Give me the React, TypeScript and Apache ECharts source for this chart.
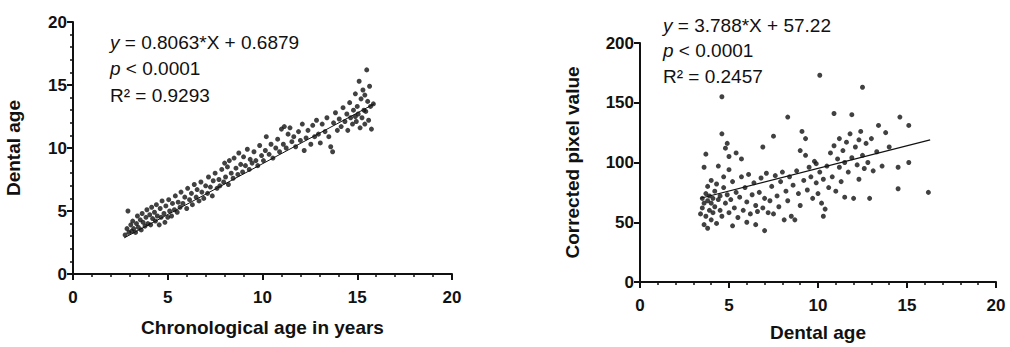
import React, { useEffect, useRef } from "react";
import * as echarts from "echarts";

// Left panel: chronological age (x) vs dental age (y)
const leftPoints: [number, number][] = [
  [2.75, 3.1], [2.85, 3.6], [2.9, 5.0], [2.95, 3.3], [3.05, 3.9], [3.1, 3.4], [3.15, 4.2], [3.2, 3.6],
  [3.3, 3.3], [3.35, 4.0], [3.4, 4.6], [3.45, 3.7], [3.55, 4.3], [3.6, 3.5], [3.65, 4.8], [3.7, 4.1],
  [3.8, 3.8], [3.85, 4.5], [3.9, 5.1], [3.95, 4.0], [4.05, 4.7], [4.1, 3.9], [4.15, 5.3], [4.2, 4.4],
  [4.3, 4.9], [4.35, 4.2], [4.4, 5.5], [4.45, 4.6], [4.55, 3.9], [4.6, 5.2], [4.65, 4.5], [4.7, 5.8],
  [4.8, 4.8], [4.85, 4.1], [4.9, 5.4], [5.0, 4.5], [5.05, 5.9], [5.1, 5.0], [5.2, 4.6], [5.25, 5.6],
  [5.35, 5.1], [5.4, 6.2], [5.5, 4.9], [5.55, 5.7], [5.65, 5.3], [5.7, 6.5], [5.8, 5.6], [5.9, 6.1],
  [6.0, 5.2], [6.05, 6.8], [6.15, 5.9], [6.25, 6.4], [6.3, 5.5], [6.4, 7.1], [6.5, 6.1], [6.55, 6.7],
  [6.65, 5.8], [6.75, 7.3], [6.8, 6.5], [6.9, 6.0], [7.0, 7.0], [7.1, 6.4], [7.15, 7.7], [7.25, 6.9],
  [7.35, 6.2], [7.4, 7.4], [7.5, 8.0], [7.6, 6.8], [7.7, 7.5], [7.75, 7.0], [7.85, 8.3], [7.95, 7.3],
  [8.0, 8.8], [8.05, 7.7], [8.15, 8.5], [8.2, 7.1], [8.25, 9.0], [8.35, 8.0], [8.45, 7.6], [8.5, 9.2],
  [8.6, 8.4], [8.7, 7.9], [8.75, 9.6], [8.85, 8.7], [8.95, 8.1], [9.0, 9.3], [9.1, 8.6], [9.2, 9.9],
  [9.3, 8.3], [9.35, 9.1], [9.45, 8.8], [9.55, 9.7], [9.65, 9.0], [9.75, 8.6], [9.85, 10.2], [9.95, 9.4],
  [10.05, 9.0], [10.15, 9.8], [10.2, 10.9], [10.35, 9.5], [10.45, 10.3], [10.55, 9.2], [10.7, 10.0], [10.8, 10.7],
  [10.9, 9.7], [11.0, 11.5], [11.1, 10.3], [11.15, 11.7], [11.25, 10.0], [11.35, 11.1], [11.45, 11.6], [11.55, 10.5],
  [11.65, 10.9], [11.75, 10.1], [11.9, 11.3], [12.0, 10.6], [12.1, 11.9], [12.2, 9.8], [12.3, 10.8], [12.4, 11.4],
  [12.55, 10.3], [12.65, 11.8], [12.75, 10.9], [12.85, 12.2], [12.95, 11.1], [13.05, 10.4], [13.15, 11.9], [13.3, 11.3],
  [13.4, 12.4], [13.5, 10.9], [13.6, 10.1], [13.7, 9.7], [13.75, 12.0], [13.85, 12.8], [13.95, 11.4], [14.05, 12.3],
  [14.15, 11.7], [14.25, 13.2], [14.35, 12.1], [14.45, 12.7], [14.5, 11.4], [14.6, 13.6], [14.65, 12.4], [14.75, 11.9],
  [14.8, 13.0], [14.9, 14.3], [14.95, 12.1], [15.0, 13.3], [15.05, 12.7], [15.1, 15.3], [15.15, 11.6], [15.2, 13.9],
  [15.25, 12.4], [15.3, 14.6], [15.35, 13.0], [15.4, 11.9], [15.45, 12.9], [15.5, 16.2], [15.55, 13.7], [15.6, 12.2],
  [15.65, 14.9], [15.7, 13.3], [15.75, 11.5], [15.85, 13.5], [15.4, 14.2], [14.9, 12.5],
];

// Right panel: dental age (x) vs corrected pixel value (y)
const rightPoints: [number, number][] = [
  [3.4, 57], [3.5, 62], [3.5, 70], [3.6, 48], [3.6, 66], [3.6, 96], [3.7, 74], [3.7, 55],
  [3.7, 107], [3.8, 68], [3.8, 45], [3.8, 80], [3.9, 60], [3.9, 72], [4.0, 52], [4.0, 66],
  [4.0, 85], [4.1, 70], [4.1, 58], [4.2, 76], [4.2, 63], [4.3, 49], [4.3, 82], [4.4, 69],
  [4.4, 97], [4.5, 60], [4.5, 72], [4.6, 155], [4.6, 124], [4.6, 55], [4.7, 79], [4.7, 88],
  [4.8, 66], [4.8, 112], [4.9, 116], [4.9, 73], [5.0, 58], [5.0, 94], [5.0, 105], [5.1, 69],
  [5.2, 47], [5.2, 84], [5.3, 62], [5.4, 75], [5.4, 108], [5.5, 54], [5.6, 71], [5.7, 103],
  [5.7, 88], [5.8, 60], [5.9, 79], [6.0, 50], [6.0, 67], [6.1, 90], [6.2, 57], [6.3, 73],
  [6.4, 83], [6.5, 48], [6.5, 64], [6.6, 59], [6.7, 75], [6.8, 87], [6.9, 113], [6.9, 62],
  [7.0, 43], [7.0, 70], [7.1, 91], [7.2, 58], [7.3, 68], [7.4, 80], [7.5, 122], [7.5, 57],
  [7.6, 89], [7.7, 72], [7.8, 63], [7.9, 84], [8.0, 92], [8.1, 52], [8.2, 76], [8.3, 138],
  [8.3, 68], [8.4, 88], [8.5, 55], [8.6, 81], [8.7, 52], [8.8, 93], [8.9, 74], [9.0, 64],
  [9.0, 110], [9.1, 126], [9.2, 85], [9.3, 106], [9.3, 120], [9.4, 77], [9.5, 96], [9.6, 88],
  [9.7, 70], [9.8, 101], [9.9, 99], [9.9, 83], [10.0, 74], [10.1, 173], [10.1, 92], [10.2, 66],
  [10.3, 55], [10.3, 86], [10.4, 61], [10.5, 97], [10.6, 79], [10.7, 108], [10.8, 88], [10.9, 141],
  [10.9, 114], [11.0, 76], [11.1, 103], [11.2, 96], [11.2, 120], [11.3, 84], [11.4, 110], [11.5, 71],
  [11.5, 100], [11.6, 117], [11.7, 92], [11.8, 124], [11.9, 140], [11.9, 104], [12.0, 70], [12.1, 113],
  [12.2, 98], [12.3, 119], [12.3, 86], [12.4, 126], [12.5, 163], [12.5, 106], [12.6, 95], [12.7, 116],
  [12.8, 100], [12.9, 70], [13.0, 120], [13.1, 93], [13.3, 109], [13.4, 131], [13.6, 97], [13.8, 125],
  [14.0, 113], [14.5, 96], [14.5, 78], [14.6, 138], [15.1, 131], [15.1, 100], [16.2, 75],
];

const leftFit = { slope: 0.8063, intercept: 0.6879, xRange: [2.7, 15.9] };
const rightFit = { slope: 3.788, intercept: 57.22, xRange: [3.4, 16.3] };

const leftNotes = ["{i|y} = 0.8063*X + 0.6879", "{i|p} < 0.0001", "R² = 0.9293"];
const rightNotes = ["{i|y} = 3.788*X + 57.22", "{i|p} < 0.0001", "R² = 0.2457"];

const FONT = "'Liberation Sans', Arial, sans-serif";

function axisCommon(min: number, max: number, interval: number, minor: boolean) {
  return {
    type: "value" as const,
    min,
    max,
    interval,
    splitLine: { show: false },
    axisLine: { show: true, onZero: false, lineStyle: { color: "#111", width: 2 } },
    axisTick: { show: true, inside: false, length: 6, lineStyle: { color: "#111", width: 2 } },
    minorTick: { show: minor, splitNumber: 5, length: 3, lineStyle: { color: "#111", width: 1.5 } },
    axisLabel: { color: "#111", fontSize: 17, fontWeight: "bold" as const, fontFamily: FONT },
    nameTextStyle: { color: "#111", fontSize: 19, fontWeight: "bold" as const, fontFamily: FONT },
    nameLocation: "middle" as const,
  };
}

function fitLine(f: { slope: number; intercept: number; xRange: number[] }) {
  return f.xRange.map((x) => [x, f.slope * x + f.intercept]);
}

function notes(lines: string[], x: number, ys: number[]) {
  return lines.map((t, i) => ({
    type: "text" as const,
    x,
    y: ys[i],
    style: {
      text: t,
      fill: "#111",
      fontSize: 19,
      fontFamily: FONT,
      verticalAlign: "middle" as const,
      rich: { i: { fontStyle: "italic" as const, fontSize: 19, fontFamily: FONT, fill: "#111" } },
    },
  }));
}

export default function App() {
  const ref = useRef<HTMLDivElement>(null);
  useEffect(() => {
    document.body.style.margin = "0";
    if (!ref.current) return;
    const chart = echarts.init(ref.current, undefined, { renderer: "svg" });
    chart.setOption({
      animation: false,
      backgroundColor: "#fff",
      grid: [
        { left: 73, top: 22, width: 379, height: 252 },
        { left: 640, top: 43, width: 356, height: 239 },
      ],
      xAxis: [
        {
          ...axisCommon(0, 20, 5, true),
          gridIndex: 0,
          name: "Chronological age in years",
          nameGap: 44,
          axisLabel: { ...axisCommon(0, 20, 5, true).axisLabel, margin: 15 },
        },
        {
          ...axisCommon(0, 20, 5, true),
          gridIndex: 1,
          name: "Dental age",
          nameGap: 41,
          axisLabel: { ...axisCommon(0, 20, 5, true).axisLabel, margin: 15 },
        },
      ],
      yAxis: [
        {
          ...axisCommon(0, 20, 5, true),
          gridIndex: 0,
          name: "Dental age",
          nameGap: 50,
          axisLabel: { ...axisCommon(0, 20, 5, true).axisLabel, margin: 6 },
        },
        {
          ...axisCommon(0, 200, 50, false),
          gridIndex: 1,
          name: "Corrected pixel value",
          nameGap: 58,
          axisLabel: { ...axisCommon(0, 200, 50, false).axisLabel, margin: 6 },
        },
      ],
      series: [
        {
          type: "scatter",
          xAxisIndex: 0,
          yAxisIndex: 0,
          data: leftPoints,
          symbol: "circle",
          symbolSize: 5,
          itemStyle: { color: "#111" },
        },
        {
          type: "line",
          xAxisIndex: 0,
          yAxisIndex: 0,
          data: fitLine(leftFit),
          symbol: "none",
          lineStyle: { color: "#111", width: 1 },
        },
        {
          type: "scatter",
          xAxisIndex: 1,
          yAxisIndex: 1,
          data: rightPoints,
          symbol: "circle",
          symbolSize: 5,
          itemStyle: { color: "#111" },
        },
        {
          type: "line",
          xAxisIndex: 1,
          yAxisIndex: 1,
          data: fitLine(rightFit),
          symbol: "none",
          lineStyle: { color: "#111", width: 1.2 },
        },
      ],
      graphic: [...notes(leftNotes, 110, [42, 68, 95]), ...notes(rightNotes, 663, [25, 50, 76])],
    });
    return () => chart.dispose();
  }, []);
  return <div ref={ref} style={{ width: 1010, height: 347 }} />;
}
